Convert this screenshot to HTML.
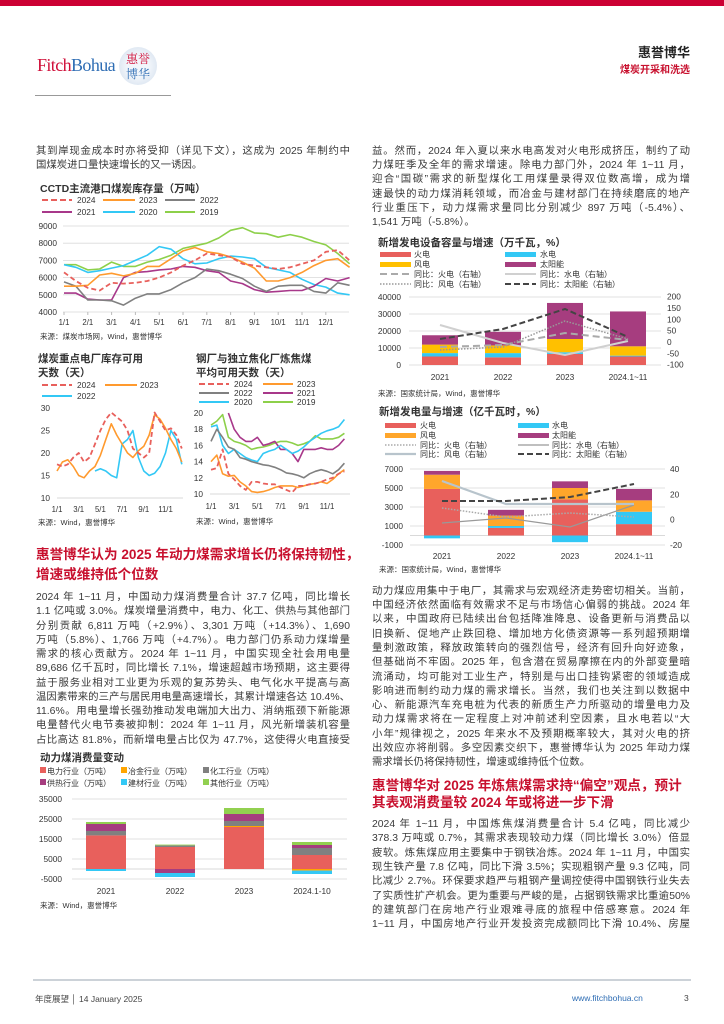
<!DOCTYPE html>
<html><head><meta charset="utf-8">
<style>
*{margin:0;padding:0;box-sizing:border-box}
body{width:724px;height:1024px;position:relative;background:#fff;font-family:"Liberation Sans","Noto Sans CJK SC",sans-serif;color:#3a3a3a;overflow:hidden}
.l{position:absolute;width:314px;height:14px;line-height:14px;font-size:10.4px;white-space:nowrap;text-align:justify;text-align-last:justify}
.r{width:318px}
.n{text-align-last:left}
.h{position:absolute;font-size:13.6px;font-weight:bold;color:#c8102e;white-space:nowrap;line-height:18px}
svg{position:absolute;left:0;top:0}
svg text{font-family:"Liberation Sans","Noto Sans CJK SC",sans-serif;fill:#333}
</style></head><body>
<div style="position:absolute;left:0;top:0;width:724px;height:6px;background:#cc0033"></div>
<div style="position:absolute;left:37px;top:55px;font-family:'Liberation Serif',serif;font-size:18px;letter-spacing:-0.6px"><span style="color:#d0103a">Fitch</span><span style="color:#2e6db4">Bohua</span></div>
<div style="position:absolute;left:119px;top:47px;width:38px;height:38px;border-radius:50%;background:radial-gradient(circle,#f2f6fb 40%,#cfdceb 100%);font-family:'Noto Serif CJK SC',serif;font-size:12px;line-height:15px;text-align:center;padding-top:4px"><span style="color:#d0103a">惠</span><span style="color:#d0103a">誉</span><br><span style="color:#2e6db4">博华</span></div>
<div style="position:absolute;left:35px;top:95px;width:136px;height:1px;background:#999"></div>
<div style="position:absolute;right:34px;top:42px;font-size:13px;font-weight:bold;color:#222">惠誉博华</div>
<div style="position:absolute;right:34px;top:61px;font-size:10px;font-weight:bold;color:#c8102e">煤炭开采和洗选</div>

<div class="l" style="left:36px;top:145px">其到岸现金成本时亦将受抑（详见下文），这成为 2025 年制约中</div>
<div class="l n" style="left:36px;top:159px">国煤炭进口量快速增长的又一诱因。</div>

<div class="h" style="left:36px;top:546px">惠誉博华认为 2025 年动力煤需求增长仍将保持韧性，</div>
<div class="h" style="left:36px;top:566px">增速或维持低个位数</div>
<div class="l" style="left:36px;top:591px">2024 年 1~11 月，中国动力煤消费量合计 37.7 亿吨，同比增长</div>
<div class="l" style="left:36px;top:605px">1.1 亿吨或 3.0%。煤炭增量消费中，电力、化工、供热与其他部门</div>
<div class="l" style="left:36px;top:620px">分别贡献 6,811 万吨（+2.9%）、3,301 万吨（+14.3%）、1,690</div>
<div class="l" style="left:36px;top:634px">万吨（5.8%）、1,766 万吨（+4.7%）。电力部门仍系动力煤增量</div>
<div class="l" style="left:36px;top:648px">需求的核心贡献方。2024 年 1~11 月，中国实现全社会用电量</div>
<div class="l" style="left:36px;top:662px">89,686 亿千瓦时，同比增长 7.1%，增速超越市场预期，这主要得</div>
<div class="l" style="left:36px;top:677px">益于服务业相对工业更为乐观的复苏势头、电气化水平提高与高</div>
<div class="l" style="left:36px;top:691px">温因素带来的三产与居民用电量高速增长，其累计增速各达 10.4%、</div>
<div class="l" style="left:36px;top:705px">11.6%。用电量增长强劲推动发电端加大出力、消纳瓶颈下新能源</div>
<div class="l" style="left:36px;top:719px">电量替代火电节奏被抑制：2024 年 1~11 月，风光新增装机容量</div>
<div class="l" style="left:36px;top:734px">占比高达 81.8%，而新增电量占比仅为 47.7%，这使得火电直接受</div>

<div class="l r" style="left:372px;top:145px">益。然而，2024 年入夏以来水电高发对火电形成挤压，制约了动</div>
<div class="l r" style="left:372px;top:159px">力煤旺季及全年的需求增速。除电力部门外，2024 年 1~11 月，</div>
<div class="l r" style="left:372px;top:173px">迎合“国碳”需求的新型煤化工用煤量录得双位数高增，成为增</div>
<div class="l r" style="left:372px;top:188px">速最快的动力煤消耗领域，而冶金与建材部门在持续磨底的地产</div>
<div class="l r" style="left:372px;top:202px">行业重压下，动力煤需求量同比分别减少 897 万吨（-5.4%）、</div>
<div class="l r n" style="left:372px;top:216px">1,541 万吨（-5.8%）。</div>

<div class="l r" style="left:372px;top:585px">动力煤应用集中于电厂，其需求与宏观经济走势密切相关。当前，</div>
<div class="l r" style="left:372px;top:599px">中国经济依然面临有效需求不足与市场信心偏弱的挑战。2024 年</div>
<div class="l r" style="left:372px;top:613px">以来，中国政府已陆续出台包括降准降息、设备更新与消费品以</div>
<div class="l r" style="left:372px;top:628px">旧换新、促地产止跌回稳、增加地方化债资源等一系列超预期增</div>
<div class="l r" style="left:372px;top:642px">量刺激政策，释放政策转向的强烈信号，经济有回升向好迹象，</div>
<div class="l r" style="left:372px;top:656px">但基础尚不牢固。2025 年，包含潜在贸易摩擦在内的外部变量暗</div>
<div class="l r" style="left:372px;top:671px">流涌动，均可能对工业生产，特别是与出口挂钩紧密的领域造成</div>
<div class="l r" style="left:372px;top:685px">影响进而制约动力煤的需求增长。当然，我们也关注到以数据中</div>
<div class="l r" style="left:372px;top:699px">心、新能源汽车充电桩为代表的新质生产力所驱动的增量电力及</div>
<div class="l r" style="left:372px;top:713px">动力煤需求将在一定程度上对冲前述利空因素，且水电若以“大</div>
<div class="l r" style="left:372px;top:728px">小年”规律视之，2025 年来水不及预期概率较大，其对火电的挤</div>
<div class="l r" style="left:372px;top:742px">出效应亦将削弱。多空因素交织下，惠誉博华认为 2025 年动力煤</div>
<div class="l r n" style="left:372px;top:756px">需求增长仍将保持韧性，增速或维持低个位数。</div>

<div class="h" style="left:372px;top:777px">惠誉博华对 2025 年炼焦煤需求持“偏空”观点，预计</div>
<div class="h" style="left:372px;top:794px">其表观消费量较 2024 年或将进一步下滑</div>
<div class="l r" style="left:372px;top:818px">2024 年 1~11 月，中国炼焦煤消费量合计 5.4 亿吨，同比减少</div>
<div class="l r" style="left:372px;top:832px">378.3 万吨或 0.7%，其需求表现较动力煤（同比增长 3.0%）倍显</div>
<div class="l r" style="left:372px;top:847px">疲软。炼焦煤应用主要集中于钢铁冶炼。2024 年 1~11 月，中国实</div>
<div class="l r" style="left:372px;top:861px">现生铁产量 7.8 亿吨，同比下滑 3.5%；实现粗钢产量 9.3 亿吨，同</div>
<div class="l r" style="left:372px;top:875px">比减少 2.7%。环保要求趋严与粗钢产量调控使得中国钢铁行业失去</div>
<div class="l r" style="left:372px;top:890px">了实质性扩产机会。更为重要与严峻的是，占据钢铁需求比重逾50%</div>
<div class="l r" style="left:372px;top:904px">的建筑部门在房地产行业艰难寻底的旅程中倍感寒意。2024 年</div>
<div class="l r" style="left:372px;top:918px">1~11 月，中国房地产行业开发投资完成额同比下滑 10.4%、房屋</div>

<div style="position:absolute;left:33px;top:979px;width:658px;height:2px;background:#ccd2d8"></div>
<div style="position:absolute;left:35px;top:993px;font-size:8.5px;color:#444">年度展望 │ 14 January 2025</div>
<div style="position:absolute;left:572px;top:993px;font-size:8.5px;color:#2e6db4">www.fitchbohua.cn</div>
<div style="position:absolute;left:684px;top:993px;font-size:8.5px;color:#444">3</div>

<svg id="s" width="724" height="1024" xmlns="http://www.w3.org/2000/svg">
<text x="40" y="192" font-size="10.5" font-weight="bold">CCTD主流港口煤炭库存量（万吨）</text>
<g font-size="8.3">
<line x1="42" y1="200" x2="72" y2="200" stroke="#e8605c" stroke-width="2" stroke-dasharray="6,3"/><text x="77" y="203">2024</text>
<line x1="103" y1="200" x2="135" y2="200" stroke="#ff9a2e" stroke-width="2"/><text x="139" y="203">2023</text>
<line x1="165" y1="200" x2="195" y2="200" stroke="#808080" stroke-width="2"/><text x="200" y="203">2022</text>
<line x1="42" y1="212" x2="72" y2="212" stroke="#a8388a" stroke-width="2"/><text x="77" y="215">2021</text>
<line x1="103" y1="212" x2="135" y2="212" stroke="#33c8f5" stroke-width="2"/><text x="139" y="215">2020</text>
<line x1="165" y1="212" x2="195" y2="212" stroke="#8dd04a" stroke-width="2"/><text x="200" y="215">2019</text>
</g>
<g id="c1"></g>
<text x="40" y="339" font-size="7.5">来源：煤炭市场网，Wind，惠誉博华</text>

<text x="38" y="362" font-size="10.5" font-weight="bold">煤炭重点电厂库存可用</text>
<text x="38" y="376" font-size="10.5" font-weight="bold">天数（天）</text>
<g font-size="8.3">
<line x1="42" y1="385" x2="72" y2="385" stroke="#e8605c" stroke-width="2" stroke-dasharray="6,3"/><text x="77" y="388">2024</text>
<line x1="105" y1="385" x2="137" y2="385" stroke="#ff9a2e" stroke-width="2"/><text x="140" y="388">2023</text>
<line x1="42" y1="396" x2="72" y2="396" stroke="#33c8f5" stroke-width="2"/><text x="77" y="399">2022</text>
</g>
<g id="c2"></g>
<text x="38" y="525" font-size="7.5">来源：Wind，惠誉博华</text>

<text x="196" y="362" font-size="10.5" font-weight="bold">钢厂与独立焦化厂炼焦煤</text>
<text x="196" y="376" font-size="10.5" font-weight="bold">平均可用天数（天）</text>
<g font-size="8.3">
<line x1="199" y1="384" x2="229" y2="384" stroke="#e8605c" stroke-width="2" stroke-dasharray="6,3"/><text x="234" y="387">2024</text>
<line x1="263" y1="384" x2="293" y2="384" stroke="#ff9a2e" stroke-width="2"/><text x="297" y="387">2023</text>
<line x1="199" y1="393" x2="229" y2="393" stroke="#808080" stroke-width="2"/><text x="234" y="396">2022</text>
<line x1="263" y1="393" x2="293" y2="393" stroke="#a8388a" stroke-width="2"/><text x="297" y="396">2021</text>
<line x1="199" y1="402" x2="229" y2="402" stroke="#33c8f5" stroke-width="2"/><text x="234" y="405">2020</text>
<line x1="263" y1="402" x2="293" y2="402" stroke="#8dd04a" stroke-width="2"/><text x="297" y="405">2019</text>
</g>
<g id="c3"></g>
<text x="196" y="524" font-size="7.5">来源：Wind，惠誉博华</text>

<text x="40" y="761" font-size="10.5" font-weight="bold">动力煤消费量变动</text>
<g font-size="8">
<rect x="40" y="767" width="6" height="6" fill="#e8605c"/><text x="47" y="774">电力行业（万吨）</text>
<rect x="121" y="767" width="6" height="6" fill="#ffa500"/><text x="128" y="774">冶金行业（万吨）</text>
<rect x="203" y="767" width="6" height="6" fill="#808080"/><text x="210" y="774">化工行业（万吨）</text>
<rect x="40" y="779" width="6" height="6" fill="#a63d7f"/><text x="47" y="786">供热行业（万吨）</text>
<rect x="121" y="779" width="6" height="6" fill="#33c8f5"/><text x="128" y="786">建材行业（万吨）</text>
<rect x="203" y="779" width="6" height="6" fill="#92d050"/><text x="210" y="786">其他行业（万吨）</text>
</g>
<g id="c4"></g>
<text x="40" y="908" font-size="7.5">来源：Wind，惠誉博华</text>

<text x="378" y="246" font-size="10.5" font-weight="bold">新增发电设备容量与增速（万千瓦，%）</text>
<g font-size="8">
<rect x="380" y="252" width="31" height="5" fill="#e8605c"/><text x="414" y="257">火电</text>
<rect x="505" y="252" width="31" height="5" fill="#33c8f5"/><text x="540" y="257">水电</text>
<rect x="380" y="262" width="31" height="5" fill="#ffc000"/><text x="414" y="267">风电</text>
<rect x="505" y="262" width="31" height="5" fill="#a63d7f"/><text x="540" y="267">太阳能</text>
<line x1="380" y1="274" x2="411" y2="274" stroke="#aaa" stroke-width="2" stroke-dasharray="7,4"/><text x="414" y="277">同比：火电（右轴）</text>
<line x1="505" y1="274" x2="536" y2="274" stroke="#d0d0d0" stroke-width="2"/><text x="540" y="277">同比：水电（右轴）</text>
<line x1="380" y1="284" x2="411" y2="284" stroke="#999" stroke-width="1.5" stroke-dasharray="1.5,1.5"/><text x="414" y="287">同比：风电（右轴）</text>
<line x1="505" y1="284" x2="536" y2="284" stroke="#444" stroke-width="2" stroke-dasharray="6,3"/><text x="540" y="287">同比：太阳能（右轴）</text>
</g>
<g id="c5"></g>
<text x="378" y="396" font-size="7.5">来源：国家统计局，Wind，惠誉博华</text>

<text x="379" y="415" font-size="10.5" font-weight="bold">新增发电量与增速（亿千瓦时，%）</text>
<g font-size="8">
<rect x="385" y="423" width="31" height="5" fill="#e8605c"/><text x="420" y="428">火电</text>
<rect x="518" y="423" width="31" height="5" fill="#33c8f5"/><text x="552" y="428">水电</text>
<rect x="385" y="433" width="31" height="5" fill="#ffa62b"/><text x="420" y="438">风电</text>
<rect x="518" y="433" width="31" height="5" fill="#a63d7f"/><text x="552" y="438">太阳能</text>
<line x1="385" y1="445" x2="416" y2="445" stroke="#aaa" stroke-width="1.5" stroke-dasharray="1.5,1.5"/><text x="420" y="448">同比：火电（右轴）</text>
<line x1="518" y1="445" x2="549" y2="445" stroke="#999" stroke-width="1.2"/><text x="552" y="448">同比：水电（右轴）</text>
<line x1="385" y1="454" x2="416" y2="454" stroke="#b8c4cc" stroke-width="2.2"/><text x="420" y="457">同比：风电（右轴）</text>
<line x1="518" y1="454" x2="549" y2="454" stroke="#444" stroke-width="2" stroke-dasharray="6,3"/><text x="552" y="457">同比：太阳能（右轴）</text>
</g>
<g id="c6"></g>
<text x="379" y="572" font-size="7.5">来源：国家统计局，Wind，惠誉博华</text>
</svg>

<script>
var NS="http://www.w3.org/2000/svg";
function el(g,t,a,txt){var e=document.createElementNS(NS,t);for(var k in a)e.setAttribute(k,a[k]);if(txt!=null)e.textContent=txt;g.appendChild(e);return e;}
function grid(g,x1,x2,ys,labels,lx,fs){for(var i=0;i<ys.length;i++){el(g,"line",{x1:x1,x2:x2,y1:ys[i],y2:ys[i],stroke:"#d9d9d9","stroke-width":0.8});el(g,"text",{x:lx,y:ys[i]+3,"font-size":fs,"text-anchor":"end"},labels[i]);}}
function series(g,vals,x0,dx,yf,st,start){var p=[];for(var i=0;i<vals.length;i++){if(vals[i]==null)continue;p.push((x0+(i+(start||0))*dx).toFixed(1)+","+yf(vals[i]).toFixed(1));}var a={points:p.join(" "),fill:"none","stroke-width":1.6,"stroke-linejoin":"round"};for(var k in st)a[k]=st[k];el(g,"polyline",a);}
var RED={stroke:"#e8605c","stroke-dasharray":"5,3","stroke-width":1.8},OR={stroke:"#ff9a2e"},GR={stroke:"#808080"},PU={stroke:"#a8388a"},CY={stroke:"#33c8f5"},GN={stroke:"#8dd04a"};
(function(){var g=document.getElementById("c1");var yf=function(v){return 226+(9000-v)*0.0172};
var ys=[],lb=[];for(var v=9000;v>=4000;v-=1000){ys.push(yf(v));lb.push(v);}grid(g,63,349,ys,lb,57,8.3);
var m=["1/1","2/1","3/1","4/1","5/1","6/1","7/1","8/1","9/1","10/1","11/1","12/1"];for(var i=0;i<12;i++){el(g,"text",{x:64+i*23.8,y:325,"font-size":7.8,"text-anchor":"middle"},m[i]);el(g,"line",{x1:64+i*23.8,x2:64+i*23.8,y1:312,y2:315,stroke:"#bbb"});}
var dx=23.8/2;
series(g,[6750,6750,6450,6500,6900,6650,6650,6900,7050,7300,7700,7850,8000,8300,8750,8900,8600,8550,8350,8500,8350,8100,7900,7400,6800],64,dx,yf,GN);
series(g,[6750,6600,6300,6400,6550,6700,7000,7300,7800,7650,7100,6800,6850,7100,7250,7200,7100,6600,6450,6300,5900,5600,5450,5100,5000],64,dx,yf,CY);
series(g,[5100,5100,4750,4700,4700,6000,6300,6350,6450,6500,6650,6600,6400,6300,5800,5650,5300,5150,5200,5250,5250,5500,5950,5800,6000],64,dx,yf,PU);
series(g,[5750,5500,4700,4700,4650,4400,4800,5050,5050,5300,5700,6000,6500,6400,6200,5950,5500,5200,5500,5550,5550,5200,5100,5700,5550],64,dx,yf,GR);
series(g,[5500,5500,5550,6150,6250,6100,6250,6650,6650,7100,7550,7750,7500,7400,7200,6900,6550,5800,5800,6000,6300,6700,7000,7100,6600],64,dx,yf,OR);
series(g,[6300,5800,5400,5250,5700,5650,5700,5800,6000,6300,6700,7000,7400,7300,7200,6800,6700,6600,6500,6600,6800,7000,7500,7600,7000],64,dx,yf,RED);
})();
(function(){var g=document.getElementById("c2");var yf=function(v){return 408+(30-v)*4.5};
var ys=[],lb=[];for(var v=30;v>=10;v-=5){ys.push(yf(v));lb.push(v);}
for(var i=0;i<ys.length;i++)el(g,"text",{x:50,y:ys[i]+3,"font-size":8.3,"text-anchor":"end"},lb[i]);
el(g,"line",{x1:57,x2:183,y1:498,y2:498,stroke:"#d9d9d9"});
var m=["1/1","3/1","5/1","7/1","9/1","11/1"];for(var i=0;i<6;i++)el(g,"text",{x:57+i*21.7,y:512,"font-size":7.8,"text-anchor":"middle"},m[i]);
var dx=10.85/2;
series(g,[null,null,null,null,null,null,null,16,16.5,16,15,14.5,22,23,25,19,16,15,15.5,17,20,25,23,17.5],57,dx,yf,CY);
series(g,[16,18,18.5,17,15,14.5,16,17,19.5,23,26.5,24,22,20,19,20.5,21.5,24,28.5,27.5,25.5,23,21,18],57,dx,yf,OR);
series(g,[17.5,17,17.5,19,20,18,19,22,25,27.5,29,28,27,25,21,20,19,20,29,27,25,25.5,24,21],57,dx,yf,RED);
})();
(function(){var g=document.getElementById("c3");var yf=function(v){return 413+(20-v)*8.1};
for(var v=20;v>=10;v-=2)el(g,"text",{x:203,y:yf(v)+3,"font-size":8.3,"text-anchor":"end"},v);
el(g,"line",{x1:210,x2:350,y1:494,y2:494,stroke:"#d9d9d9"});
var m=["1/1","3/1","5/1","7/1","9/1","11/1"];for(var i=0;i<6;i++)el(g,"text",{x:211+i*23.2,y:509,"font-size":7.8,"text-anchor":"middle"},m[i]);
var dx=11.6/2;
series(g,[18.5,19,19.8,17,16.5,16.3,16,15.5,15.7,15.8,16,16.3,16.5,16.5,16.3,16,16.2,16.5,17.2,16.8,16.8,16.8,17,17.5],211,dx,yf,GN);
series(g,[null,null,null,20,18,17,16.5,16.5,17,16,16.2,16.5,15.5,15.5,15,14,15.5,15.5,15.5,15.7,15.5,15.5,16,16.8],211,dx,yf,PU);
series(g,[18.3,18.5,16,15,15.5,15,14.5,14.2,14,15,15.3,15.5,16,15.5,15,15.3,15.8,16.5,17,17.5,17.8,18,18.3,19.2],211,dx,yf,CY);
series(g,[16.5,18,17,15.8,15.5,14.5,14.3,14,13.8,13.6,13.5,13.3,13,12.6,12.5,12.3,12,12.5,12.8,13,12.8,12.5,13,13.8],211,dx,yf,GR);
series(g,[14,14.8,12.5,12.2,12.3,11.5,11,10.3,10.2,10.3,10.5,10.8,11,11,11,10.8,11,11.2,11.3,11.5,11.3,11.8,12.5,13],211,dx,yf,OR);
series(g,[13,13.2,15.5,12.5,11.8,11,10.5,11.5,11.5,11.3,11.2,11.2,10.8,10.5,10.2,11,11,11.2,11.3,11.5,11.8,12,12.5,12.8],211,dx,yf,RED);
})();
function stack(g,x,w,y0,sc,pos,neg){var c=0;for(var i=0;i<pos.length;i++){var v=pos[i][0];if(v<=0)continue;el(g,"rect",{x:x,y:y0-(c+v)*sc,width:w,height:v*sc,fill:pos[i][1]});c+=v;}c=0;for(var i=0;i<neg.length;i++){var v=neg[i][0];el(g,"rect",{x:x,y:y0+c*sc,width:w,height:v*sc,fill:neg[i][1]});c+=v;}}
(function(){var g=document.getElementById("c4");var yf=function(v){return 869-v*0.002};
for(var v=35000;v>=-5000;v-=10000){el(g,"line",{x1:72,x2:347,y1:yf(v),y2:yf(v),stroke:"#d9d9d9","stroke-width":0.8});el(g,"text",{x:62,y:yf(v)+3,"font-size":8.3,"text-anchor":"end"},v);}
el(g,"line",{x1:72,x2:347,y1:869,y2:869,stroke:"#d9d9d9"});
var E="#e8605c",Y="#ffa500",H="#808080",P="#a63d7f",C="#33c8f5",G="#92d050",s=0.002;
stack(g,86,40,869,s,[[16800,E],[2200,H],[3500,P],[1000,G]],[[1000,C]]);
stack(g,155,40,869,s,[[11000,E],[800,H],[400,G]],[[2000,P],[2000,C]]);
stack(g,224,40,869,s,[[21000,E],[500,Y],[2500,H],[3500,P],[3000,G]],[]);
stack(g,292,40,869,s,[[7000,E],[3500,H],[1500,P],[1500,G]],[[800,Y],[1700,C]]);
var L=["2021","2022","2023","2024.1-10"],X=[106,175,244,312];for(var i=0;i<4;i++)el(g,"text",{x:X[i],y:894,"font-size":8.3,"text-anchor":"middle"},L[i]);
})();
function lines(g,X,yf,vals,st){var p=[];for(var i=0;i<4;i++)p.push(X[i]+","+yf(vals[i]).toFixed(1));var a={points:p.join(" "),fill:"none"};for(var k in st)a[k]=st[k];el(g,"polyline",a);}
(function(){var g=document.getElementById("c5");var yf=function(v){return 365-v*0.0017};
for(var v=40000;v>=0;v-=10000){el(g,"line",{x1:409,x2:661,y1:yf(v),y2:yf(v),stroke:"#d9d9d9","stroke-width":0.8});el(g,"text",{x:401,y:yf(v)+3,"font-size":8.3,"text-anchor":"end"},v);}
var ry=function(v){return 342-v*0.2267};for(var v=200;v>=-100;v-=50)el(g,"text",{x:667,y:ry(v)+3,"font-size":8.3},v);
var E="#e8605c",C="#33c8f5",Y="#ffc000",P="#a63d7f",s=0.0017;
stack(g,422,36,365,s,[[5000,E],[2000,C],[5000,Y],[5500,P]],[]);
stack(g,485,36,365,s,[[4500,E],[2500,C],[4500,Y],[8000,P]],[]);
stack(g,547,36,365,s,[[6500,E],[1000,C],[7800,Y],[21200,P]],[]);
stack(g,610,36,365,s,[[5000,E],[500,C],[5500,Y],[20500,P]],[]);
var X=[440,503,565,628];
lines(g,X,function(y){return y},[325,343,355,341],{stroke:"#d0d0d0","stroke-width":2});
lines(g,X,function(y){return y},[347,345,333,340],{stroke:"#aaa","stroke-width":2,"stroke-dasharray":"7,4"});
lines(g,X,function(y){return y},[350,347,321,339],{stroke:"#999","stroke-width":1.5,"stroke-dasharray":"1.5,1.5"});
lines(g,X,function(y){return y},[339,329,309,337],{stroke:"#444","stroke-width":2,"stroke-dasharray":"6,3"});
var L=["2021","2022","2023","2024.1~11"];for(var i=0;i<4;i++)el(g,"text",{x:X[i],y:380,"font-size":8.3,"text-anchor":"middle"},L[i]);
})();
(function(){var g=document.getElementById("c6");var yf=function(v){return 535.5-v*0.0095};
for(var v=7000;v>=-1000;v-=2000){el(g,"line",{x1:410,x2:665,y1:yf(v),y2:yf(v),stroke:"#d9d9d9","stroke-width":0.8});el(g,"text",{x:403,y:yf(v)+3,"font-size":8.3,"text-anchor":"end"},v);}
el(g,"line",{x1:410,x2:665,y1:535.5,y2:535.5,stroke:"#d9d9d9"});
var ry=function(v){return 519.7-v*1.267};for(var v=40;v>=-20;v-=20)el(g,"text",{x:670,y:ry(v)+3,"font-size":8.3},v);
var E="#e8605c",C="#33c8f5",Y="#ffa62b",P="#a63d7f",s=0.0095;
stack(g,424,36,535.5,s,[[4900,E],[1500,Y],[400,P]],[[300,C]]);
stack(g,488,36,535.5,s,[[800,E],[200,C],[1100,Y],[600,P]],[]);
stack(g,552,36,535.5,s,[[3800,E],[1200,Y],[700,P]],[[700,C]]);
stack(g,616,36,535.5,s,[[1200,E],[1300,C],[1200,Y],[1200,P]],[]);
var X=[442,506,570,634],id=function(y){return y};
lines(g,X,id,[523,518,527,505],{stroke:"#999","stroke-width":1.2});
lines(g,X,id,[481,504,504,504],{stroke:"#b8c4cc","stroke-width":2.2});
lines(g,X,id,[508,517,513,517],{stroke:"#aaa","stroke-width":1.5,"stroke-dasharray":"1.5,1.5"});
lines(g,X,id,[501,501,497,484],{stroke:"#444","stroke-width":2,"stroke-dasharray":"6,3"});
var L=["2021","2022","2023","2024.1~11"];for(var i=0;i<4;i++)el(g,"text",{x:X[i],y:559,"font-size":8.3,"text-anchor":"middle"},L[i]);
})();
</script>
</body></html>
